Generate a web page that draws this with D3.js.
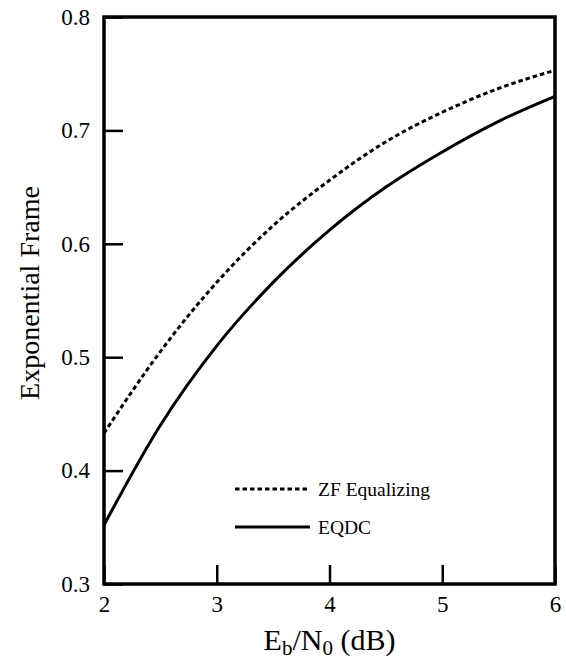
<!DOCTYPE html>
<html>
<head>
<meta charset="utf-8">
<script src="https://cdn.jsdelivr.net/npm/d3@7"></script>
<style>
  body { margin: 0; background: #fff; }
</style>
</head>
<body>
<div id="chart"></div>
<script>
// data
var ebn0 = [2, 2.5, 3, 3.5, 4, 4.5, 5, 5.5, 6];
var zfEqualizing = [0.433, 0.505, 0.566, 0.616, 0.656, 0.690, 0.716, 0.737, 0.753];
var eqdc = [0.352, 0.440, 0.510, 0.566, 0.612, 0.650, 0.681, 0.708, 0.730];
var xTicks = [2, 3, 4, 5, 6];
var yTicks = [0.3, 0.4, 0.5, 0.6, 0.7, 0.8];

var serif = "Liberation Serif";
var width = 566, height = 664;
var mLeft = 104, mRight = 555, mTop = 17, mBottom = 584;

var svg = d3.select("#chart").append("svg")
    .attr("width", width)
    .attr("height", height)
    .style("font-family", serif);

var x = d3.scaleLinear().domain([2, 6]).range([mLeft, mRight]);
var y = d3.scaleLinear().domain([0.3, 0.8]).range([mBottom, mTop]);

// axes, ticks pointing inward
var xAxis = d3.axisBottom(x).tickValues(xTicks).tickSize(-19).tickPadding(12)
    .tickFormat(d3.format("d"));
var yAxis = d3.axisLeft(y).tickValues(yTicks).tickSize(-19).tickPadding(14)
    .tickFormat(d3.format(".1f"));

var gx = svg.append("g")
    .attr("transform", "translate(0," + mBottom + ")")
    .call(xAxis);
var gy = svg.append("g")
    .attr("transform", "translate(" + mLeft + ",0)")
    .call(yAxis);

[gx, gy].forEach(function(g) {
    g.attr("font-family", null).attr("font-size", null);
    g.select(".domain").remove();
    g.selectAll(".tick line").attr("stroke", "#000").attr("stroke-width", 2.5);
    g.selectAll(".tick text")
        .style("font-family", serif)
        .style("font-size", "23px")
        .attr("fill", "#000");
});

// the curves
var line = d3.line()
    .x(function(d) { return x(d[0]); })
    .y(function(d) { return y(d[1]); })
    .curve(d3.curveMonotoneX);

svg.append("path")
    .datum(d3.zip(ebn0, zfEqualizing))
    .attr("d", line)
    .attr("fill", "none")
    .attr("stroke", "#000")
    .attr("stroke-width", 3)
    .attr("stroke-dasharray", "4.5,3");

svg.append("path")
    .datum(d3.zip(ebn0, eqdc))
    .attr("d", line)
    .attr("fill", "none")
    .attr("stroke", "#000")
    .attr("stroke-width", 3);

// frame
svg.append("rect")
    .attr("x", mLeft)
    .attr("y", mTop)
    .attr("width", mRight - mLeft)
    .attr("height", mBottom - mTop)
    .attr("fill", "none")
    .attr("stroke", "#000")
    .attr("stroke-width", 3.5);

// legend
var legend = svg.append("g");
var items = [
    { label: "ZF Equalizing", dash: "4.5,3", ly: 489 },
    { label: "EQDC", dash: null, ly: 527 }
];
items.forEach(function(it) {
    legend.append("line")
        .attr("x1", 235).attr("x2", 310)
        .attr("y1", it.ly).attr("y2", it.ly)
        .attr("stroke", "#000")
        .attr("stroke-width", 3)
        .attr("stroke-dasharray", it.dash);
    legend.append("text")
        .attr("x", 318)
        .attr("y", it.ly)
        .attr("dy", "0.35em")
        .style("font-size", "19.5px")
        .text(it.label);
});

// axis titles
var xt = svg.append("text")
    .attr("x", (mLeft + mRight) / 2)
    .attr("y", 650)
    .attr("text-anchor", "middle")
    .style("font-size", "30px");
xt.append("tspan").text("E");
xt.append("tspan").style("font-size", "21px").attr("dy", 5).text("b");
xt.append("tspan").attr("dy", -5).text("/N");
xt.append("tspan").style("font-size", "21px").attr("dy", 5).text("0");
xt.append("tspan").attr("dy", -5).text(" (dB)");

svg.append("text")
    .attr("transform", "translate(39,293) rotate(-90)")
    .attr("text-anchor", "middle")
    .style("font-size", "28px")
    .text("Exponential Frame");
</script>
</body>
</html>
